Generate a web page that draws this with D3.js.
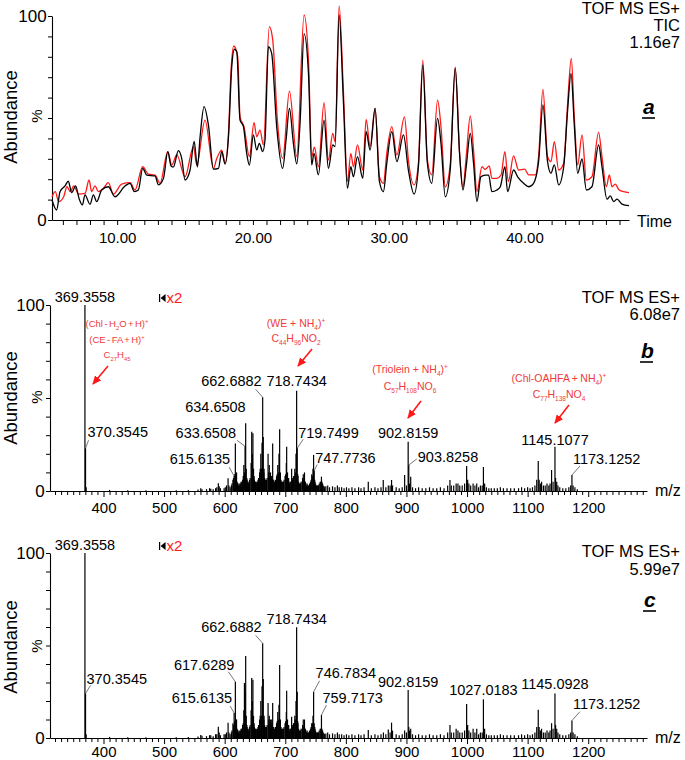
<!DOCTYPE html>
<html><head><meta charset="utf-8">
<script src="https://cdn.jsdelivr.net/npm/d3@7"></script>
<style>
body{margin:0;background:#fff}
svg{display:block}
text{font-family:"Liberation Sans",Arial,sans-serif}
</style>
</head><body>
<svg id="chart" width="685" height="760"></svg>
<script>
// ---------- DATA ----------
// Panel a: TIC chromatograms [time (min), abundance %]
const ticBlack = [[5.2,9.8],[5.54,4.9],[5.79,13.9],[6.16,16.7],[6.40,19],[6.65,13.4],[6.94,16.7],[7.19,10.6],[7.44,7.4],[7.63,12.3],[8.0,7.7],[8.25,12.3],[8.49,9],[8.86,14.7],[9.35,16.3],[9.84,11.4],[10.58,16.7],[10.95,18],[11.27,13.9],[11.56,14.7],[11.88,25.3],[12.18,22],[12.79,21.6],[13.04,17.2],[13.41,20.4],[13.73,33.5],[13.97,26.5],[14.14,26],[14.51,34],[14.76,30],[15.0,19.6],[15.37,24.5],[15.67,38.5],[15.91,26],[16.11,40.9],[16.4,55.6],[16.72,46.6],[17.09,24.9],[17.46,25.3],[17.7,33.5],[17.95,27.4],[18.2,40.9],[18.44,75.2],[18.64,83.7],[18.81,82.5],[19.05,49],[19.3,45.8],[19.54,32.7],[19.74,26.9],[20.03,41.7],[20.28,34.3],[20.47,37.6],[20.72,33.5],[20.89,39.2],[21.14,85],[21.38,81.7],[21.75,45.8],[22.19,25.3],[22.44,39.2],[22.69,54.7],[22.98,37.6],[23.23,27.5],[23.47,47.4],[23.77,91.2],[24.09,71.9],[24.33,27],[24.5,32.7],[24.82,22.1],[25.24,49],[25.56,25.3],[25.88,36.8],[26.05,36],[26.35,100.5],[26.66,58.8],[26.96,15.5],[27.21,26.1],[27.4,21.2],[27.7,31.1],[28.09,20.4],[28.34,43.3],[28.63,34.3],[29.0,54.7],[29.32,18.8],[29.61,13.9],[29.86,27.8],[30.23,43.3],[30.6,28.6],[31.09,41.7],[31.45,24.5],[31.87,12.7],[32.19,26.1],[32.51,76],[32.85,27.8],[33.17,18],[33.6,49.8],[33.85,37.6],[34.17,11.4],[34.53,24.5],[34.9,74.4],[35.22,32.7],[35.47,14.7],[35.71,26.1],[36.01,42.5],[36.25,27.8],[36.5,9],[36.79,21.2],[37.11,22],[37.36,22],[37.6,13.9],[37.97,14.7],[38.22,16.3],[38.56,26.1],[38.76,13.9],[39.2,24.5],[39.5,21.2],[39.94,18],[40.31,16.3],[40.67,18],[41.04,28.6],[41.36,56.4],[41.7,28.6],[41.95,22.9],[42.2,27],[42.52,17.2],[42.89,26.1],[43.18,53.9],[43.43,71.9],[43.67,46.6],[43.92,22.9],[44.24,29.9],[44.56,14.7],[44.97,16.3],[45.46,36.8],[45.71,26.1],[46.08,10.2],[46.32,11.8],[46.57,9],[46.82,10.2],[47.18,7.8],[47.7,7]];
const ticRed = [[5.2,11.4],[5.44,13.9],[5.69,9],[6.06,11.4],[6.3,16.3],[6.55,13.9],[6.8,16.7],[7.16,12.7],[7.63,13],[7.93,19.6],[8.12,13.9],[8.37,16.7],[8.61,13.9],[8.98,15.5],[9.35,18.3],[9.72,12.7],[10.33,17.6],[10.95,18.3],[11.31,14.7],[11.88,26.1],[12.3,22.5],[12.79,22],[13.16,18],[13.73,33.5],[14.02,27],[14.39,31.9],[15.0,21.2],[15.62,36],[15.86,27],[16.47,49],[17.09,25.3],[17.33,30],[17.7,34.3],[17.95,27.8],[18.2,42.5],[18.39,73.5],[18.59,85.3],[18.88,80],[19.05,50.6],[19.34,45.8],[19.74,31.1],[20.08,47.7],[20.28,40.8],[20.52,44.1],[20.77,36.8],[21.21,94.8],[21.46,88.2],[21.8,49],[22.19,30.2],[22.69,63.2],[23.23,31.1],[23.77,100.5],[24.09,78.4],[24.33,31.1],[24.53,35.7],[24.82,26.1],[25.24,57.5],[25.56,29.4],[25.88,42.5],[26.05,38.4],[26.35,105],[26.66,63.7],[26.96,18.8],[27.21,32.7],[27.4,26.1],[27.7,36.8],[28.09,24.5],[28.34,49.3],[28.63,36],[29.0,54.7],[29.32,21.2],[29.61,18],[29.86,32.7],[30.23,45.8],[30.6,31.9],[31.16,50.6],[31.45,29.4],[31.87,17.2],[32.19,27.8],[32.51,78.4],[32.85,29.4],[33.17,22.1],[33.6,58.8],[33.85,45.8],[34.17,16.3],[34.53,27],[34.9,74.9],[35.22,32.7],[35.47,16.3],[35.71,31.1],[36.01,51],[36.25,34.3],[36.5,13.9],[36.87,26.1],[37.11,24.8],[37.41,26.5],[37.6,20.4],[37.97,20.4],[38.27,22],[38.56,33.5],[38.81,18.8],[39.2,31.4],[39.57,24.5],[40.01,24.9],[40.31,22.1],[40.8,22.1],[41.04,31.1],[41.36,64],[41.7,31.1],[41.95,28.6],[42.2,38.4],[42.52,24.5],[42.89,27.8],[43.18,57.2],[43.45,79.2],[43.67,50.6],[43.92,27],[44.24,41.7],[44.56,19.6],[44.97,21.2],[45.46,43],[45.71,31.1],[46.03,16.3],[46.25,22.1],[46.45,16.3],[46.69,17.6],[46.94,15],[47.31,13.9],[47.7,13.4]];
const timeTickLabels = ["10.00","20.00","30.00","40.00"];

// Panel b: mass spectrum [m/z, relative abundance %]
const specB = [[369.36,100],[370.35,23],[371.35,2],[410,0.6],[440,0.4],[470,0.4],[520,0.4],[540,0.5],[556,0.8],[560.5,1.5],[562.5,1],[570,1],[575,1.5],[577,1.2],[581,1],[585,1.5],[587,2],[589.5,4.1],[591,2.5],[593,1.5],[599,1.5],[601,2],[603,3],[605.6,6.8],[607,3],[609,2],[611,3],[612,4],[613.6,6],[614.6,7],[615.6,8],[616.6,9],[617.6,25.6],[618.6,9],[619.6,10],[620.6,5],[621,4],[622,4],[623,3],[624,4],[625,3],[626,4],[627,5],[628,5],[629.6,6],[630.6,8],[631.6,14],[632.6,10],[633.65,24],[634.65,36.4],[635.6,12],[636.6,7],[637,6],[638,5],[639,4],[640,5],[641,6],[642,7],[643.6,15],[644.6,31.9],[645.6,20],[646.6,31],[647.6,12],[648.6,8],[649,6],[650,5],[651,5],[652,5],[653,4],[654,5],[655,6],[656,7],[657.6,10],[658.6,12],[659.6,20],[660.6,12],[661.6,26],[662.69,50.4],[663.7,29],[664.6,10],[665,12],[666,7],[667,6],[668,6],[669,6],[670,7],[671.6,20],[672.6,10],[673.6,14],[674.6,8],[675.6,10],[676.6,7],[677.6,8],[678,8],[679.2,25.6],[680,6],[681,6],[682,5],[683,5],[684,6],[685.6,8],[686.6,9],[687.6,14],[688.6,10],[689.6,20],[690.7,33.2],[692,10],[693,6],[694,5],[695,5],[696,5],[697,5],[698,6],[699.6,8],[700.6,9],[701.7,15],[702.3,23.8],[703.7,10],[704.6,7],[705.6,7],[706,5],[707,4],[708,5],[709,5],[710.5,12],[711.5,7],[712,6],[713.6,8],[714.6,8],[715.7,12],[716.6,10],[717.7,20],[718.74,53.9],[719.75,23],[720.6,9],[721,8],[722,5],[723,4],[724,4],[725,4],[726,5],[727.6,5],[728.6,7],[729.7,9],[730.6,6],[731.7,10],[732.6,5],[733,5],[734,4],[735,3],[736,4],[737,3],[738,3],[739,3],[740,4],[741.6,5],[742.6,6],[743.7,9],[744.6,8],[745.7,12],[746.7,19.4],[747.77,11],[748.6,6],[749,5],[750,4],[751,3],[752,3],[753,3],[754,3],[755,3],[756,4],[757.6,5],[758.6,5],[759.7,7.7],[760.6,5],[761.6,4],[762.6,3],[764,2.5],[765,2],[767,2.5],[770,3],[773,2],[778,2.5],[782,2],[786,3],[789,2],[793,2],[797,1.5],[801,2],[805,1.5],[810,2],[815,1.5],[821,2],[825,1.5],[830,2],[837,5],[842,1.5],[848,2],[853,1.5],[858,2],[861.7,5.9],[866,2],[870,3],[873,3],[875.4,5.9],[877,3],[883,2],[888,1.5],[893,2],[897,8.6],[900,3],[902.82,26.5],[903.83,14],[905,4],[907,7.7],[910,2],[915,1.5],[920,2],[926,1.5],[932,1.5],[938,2],[944,1.5],[950,1.5],[956,2],[962,1.5],[968,3],[971.8,5.9],[974,3],[978,3],[982,4],[985,4],[988,3],[992,3],[996,4],[999.3,13.4],[1001,6],[1003,4],[1006,3],[1010,4],[1013,3],[1016,4],[1019,2],[1022,3],[1025,3],[1027.02,12.9],[1029,4],[1032,2],[1036,1.5],[1040,1.5],[1045,1.5],[1050,1.5],[1055,2],[1060,1.5],[1066,1.5],[1072,1.5],[1078,1.5],[1085,1.5],[1090,2],[1095,1.5],[1100,2],[1104,1.5],[1108,2],[1112,3],[1115,6],[1117.5,16.1],[1119,6],[1121,4],[1123,5],[1126,3],[1129,3],[1132,4],[1135,3],[1137,4],[1139.5,11.3],[1142,5],[1145.11,23.8],[1146.1,7],[1148,5],[1150,3],[1153,2],[1158,1.5],[1163,1.5],[1168,2],[1171,3],[1173.13,8.6],[1175,3],[1178,2],[1182,1]];

// Panel c: mass spectrum [m/z, relative abundance %]
const specC = [[369.36,100],[370.35,24.1],[371.35,2],[410,0.6],[440,0.4],[470,0.4],[520,0.4],[540,0.5],[556,0.8],[560.5,1.6],[562.5,1.2],[570,1],[575,1.5],[577,1.5],[581,1],[585,2],[587,2],[589.5,6.1],[591,3],[593,1.5],[599,2],[601,2],[603,3],[605.6,8.3],[607,3],[609,2],[611,3],[612,4],[613.6,8],[614.6,7],[615.61,13.5],[616.6,9],[617.63,30.4],[618.6,10],[619.6,10],[620.6,5],[621,4],[622,4],[623,3],[624,4],[625,3],[626,4],[627,5],[628,5],[629.6,7],[630.6,8],[631.6,15],[632.6,29.7],[633.65,25],[634.65,44.3],[635.6,12],[636.6,7],[637,6],[638,5],[639,4],[640,5],[641,6],[642,7],[643.6,15],[644.6,32.4],[645.6,20],[646.6,31.5],[647.6,12],[648.6,8],[649,6],[650,5],[651,5],[652,5],[653,4],[654,5],[655,6],[656,7],[657.6,10],[658.6,12],[659.6,20],[660.6,12],[661.6,28],[662.69,51.2],[663.7,31.9],[664.6,10],[665,12],[666,7],[667,6],[668,6],[669,6],[670,7],[671.6,18.9],[672.6,10],[673.6,12],[674.6,8],[675.6,10],[676.6,7],[677.6,10],[678,8],[679.2,18.9],[680,6],[681,6],[682,5],[683,5],[684,6],[685.6,8],[686.6,9],[687.6,14],[688.6,10],[689.6,18],[690.7,39.5],[692,10],[693,6],[694,5],[695,5],[696,5],[697,5],[698,6],[699.6,8],[700.6,9],[701.7,14],[702.3,25.6],[703.7,10],[704.6,7],[705.6,7],[706,5],[707,4],[708,5],[709,5],[710.5,11.5],[711.5,7],[712,6],[713.6,8],[714.6,8],[715.7,12],[716.6,10],[717.7,20],[718.74,59.8],[719.75,25],[720.6,9],[721,8],[722,5],[723,4],[724,4],[725,4],[726,5],[727.6,5],[728.6,7],[729.7,10],[730.6,6],[731.7,10],[732.6,5],[733,5],[734,4],[735,3],[736,4],[737,3],[738,3],[739,3],[740,4],[741.6,5],[742.6,6],[743.7,8],[744.6,8],[745.7,12],[746.78,25],[747.7,8],[748.6,6],[749,5],[750,4],[751,3],[752,3],[753,3],[754,3],[755,3],[756,4],[757.6,5],[758.6,5],[759.72,12.4],[760.6,5],[761.6,4],[762.6,3],[764,2.5],[765,2],[767,2.5],[770,3],[773,2],[778,2.5],[782,2],[786,3],[789,2],[793,2],[797,1.5],[801,2],[805,1.5],[810,2],[815,1.5],[821,2],[825,1.5],[830,2],[837,4.3],[842,1.5],[848,2],[853,1.5],[858,2],[862,3],[866,2],[870,4.6],[873,3],[875.4,8.3],[877,4],[883,2],[888,1.5],[893,2],[897,4],[900,3],[902.82,25.9],[903.83,6],[905,4],[907,5],[910,2],[915,1.5],[920,2],[926,1.5],[932,1.5],[938,2],[944,1.5],[950,1.5],[956,2],[962,1.5],[968,3],[971.8,7],[974,3],[978,3],[982,5],[985,4],[988,3],[992,3],[996,4],[999.3,18.4],[1001,7],[1003,4],[1006,3],[1010,5],[1013,3],[1016,5],[1019,2],[1022,3],[1025,3],[1027.02,20.9],[1029,5],[1032,2],[1036,1.5],[1040,1.5],[1045,1.5],[1050,1.5],[1055,2],[1060,1.5],[1066,1.5],[1072,1.5],[1078,1.5],[1085,1.5],[1090,2],[1095,1.5],[1100,2],[1104,1.5],[1108,2],[1112,3],[1115,6],[1117.5,15.3],[1119,6],[1121,4],[1123,5],[1126,3],[1129,3],[1132,4],[1135,3],[1137,4],[1139.5,8],[1142,5],[1145.09,24.1],[1146.1,7],[1148,5],[1150,3],[1153,2],[1158,1.5],[1163,1.5],[1168,2],[1171,3],[1173.13,9.4],[1175,3],[1178,2],[1182,1]];
const mzTickLabels = [400,500,600,700,800,900,1000,1100,1200];

// Peak labels: [text, m/z, abundance]
const peakLabelsB = [["369.3558",369.36,100],["370.3545",370.35,23],["615.6135",615.6,8],["633.6508",633.65,24],["634.6508",634.65,36.4],["662.6882",662.69,50.4],["718.7434",718.74,53.9],["719.7499",719.75,23],["747.7736",747.77,11],["902.8159",902.82,26.5],["903.8258",903.83,14],["1145.1077",1145.11,23.8],["1173.1252",1173.13,8.6]];
const peakLabelsC = [["369.3558",369.36,100],["370.3545",370.35,24.1],["617.6289",617.63,30.4],["615.6135",615.61,13.5],["662.6882",662.69,51.2],["718.7434",718.74,59.8],["746.7834",746.78,25],["759.7173",759.72,12.4],["902.8159",902.82,25.9],["1027.0183",1027.02,20.9],["1145.0928",1145.09,24.1],["1173.1252",1173.13,9.4]];

// Red annotations (panel b)
const annotTexts = [
  ["(Chl - H_2O + H)^+","(CE - FA + H)^+","C_27H_45"],
  ["(WE + NH_4)^+","C_44H_96NO_2"],
  ["(Triolein + NH_4)^+","C_57H_108NO_6"],
  ["(Chl-OAHFA + NH_4)^+","C_77H_138NO_4"]
];

// ---------- LAYOUT ----------
const svg = d3.select("#chart");
const RED = "#ff1a1a", ANN = "#f03a3a";

function rich(sel, str, size){
  const toks = str.match(/_\d+|\^[+\-]|[^_^]+/g);
  let shift = 0;
  toks.forEach(t=>{
    let target = 0, txt = t, fs = size;
    if(t[0]==="_"){target = size*0.32; txt=t.slice(1); fs=size*0.62;}
    else if(t[0]==="^"){target = -size*0.42; txt=t.slice(1); fs=size*0.62;}
    sel.append("tspan").attr("dy", target-shift).attr("font-size", fs).text(txt);
    shift = target;
  });
}

function styleAxis(g, fs){
  g.select(".domain").attr("stroke","#000").attr("stroke-width",1.1);
  g.selectAll(".tick line").attr("stroke","#000").attr("stroke-width",1);
  g.selectAll(".tick text").attr("font-size",fs).attr("font-family",'"Liberation Sans",Arial,sans-serif').attr("fill","#000");
}

function yLabels(cy){
  svg.append("text").attr("transform",`translate(17,${cy}) rotate(-90)`).attr("text-anchor","middle")
    .attr("font-size",18.5).text("Abundance");
  svg.append("text").attr("transform",`translate(42,${cy-1}) rotate(-90)`).attr("text-anchor","middle")
    .attr("font-size",15).text("%");
}

function panelLetter(ch, x, y){
  svg.append("text").attr("x",x).attr("y",y).attr("font-size",21).attr("font-style","italic")
    .attr("font-weight","bold").text(ch);
  svg.append("line").attr("x1",x-1).attr("x2",x+12).attr("y1",y+4).attr("y2",y+4).attr("stroke","#000").attr("stroke-width",1.6);
}

function header(lines, y0, dy){
  lines.forEach((s,i)=> svg.append("text").attr("x",680).attr("y",y0+i*dy).attr("text-anchor","end")
    .attr("font-size",16.5).text(s));
}

// ---------- Panel a ----------
const xT = d3.scaleLinear().domain([5.2,47.7]).range([52,629]);
const yA = d3.scaleLinear().domain([0,100]).range([220,16]);

const gxA = svg.append("g").attr("transform","translate(0,220)")
  .call(d3.axisBottom(xT).tickValues(d3.range(6,48,1)).tickSize(5).tickSizeOuter(0)
    .tickFormat(d => d%10===0 ? timeTickLabels[d/10-1] : ""));
styleAxis(gxA, 15);
gxA.selectAll(".tick text").attr("dy","1.0em");
const gyA = svg.append("g").attr("transform","translate(52,0)")
  .call(d3.axisLeft(yA).tickValues(d3.range(0,101,10)).tickSize(4).tickSizeOuter(0)
    .tickFormat(d => (d===0||d===100) ? d : ""));
styleAxis(gyA, 17);
gyA.selectAll(".tick text").attr("dx","0.1em");
svg.append("text").attr("x",637).attr("y",227).attr("font-size",16).text("Time");

const lineA = d3.line().x(d=>xT(d[0])).y(d=>yA(d[1])).curve(d3.curveMonotoneX);
svg.append("path").datum(ticRed).attr("d",lineA).attr("fill","none").attr("stroke",RED).attr("stroke-width",1.3);
svg.append("path").datum(ticBlack).attr("d",lineA).attr("fill","none").attr("stroke","#000").attr("stroke-width",1.3);

yLabels(117);
header(["TOF MS ES+","TIC","1.16e7"], 14, 17);
panelLetter("a", 643, 114);

// ---------- Spectra ----------
const xM = d3.scaleLinear().domain([311.7,1297]).range([50,647]);

function spectrum(data, y0, y100, labels, layout, tickDy){
  const yS = d3.scaleLinear().domain([0,100]).range([y0,y100]);
  const gx = svg.append("g").attr("transform",`translate(0,${y0})`)
    .call(d3.axisBottom(xM).tickValues(d3.range(320,1297,10)).tickSize(4).tickSizeOuter(0)
      .tickFormat(d => mzTickLabels.includes(d) ? d : ""));
  styleAxis(gx, 15);
  gx.selectAll(".tick text").attr("dy",tickDy);
  gx.selectAll(".tick line").filter(d=>d%100===0).attr("y2",6);
  const gy = svg.append("g").attr("transform","translate(50,0)")
    .call(d3.axisLeft(yS).tickValues(d3.range(0,101,10)).tickSize(4).tickSizeOuter(0)
      .tickFormat(d => (d===0||d===100) ? d : ""));
  styleAxis(gy, 17);
  gy.selectAll(".tick text").attr("dx","0.1em");
  svg.append("text").attr("x",655).attr("y",y0+5).attr("font-size",16).text("m/z");

  svg.append("g").selectAll("line").data(data).join("line")
    .attr("x1",d=>xM(d[0])).attr("x2",d=>xM(d[0]))
    .attr("y1",yS(0)).attr("y2",d=>yS(d[1]))
    .attr("stroke","#000").attr("stroke-width",1.2);

  labels.forEach((l,i)=>{
    const [txt, mz, v] = l;
    const L = layout[i];
    const px = xM(mz), py = yS(v);
    svg.append("text").attr("x",px+L[1]).attr("y",py+L[2]).attr("text-anchor",L[0])
      .attr("font-size",14.5).text(txt);
    if(L[3]){
      svg.append("line").attr("x1",px).attr("y1",py).attr("x2",px+L[3][0]).attr("y2",py+L[3][1])
        .attr("stroke","#555").attr("stroke-width",0.8);
    }
  });

  // x2 marker
  const mx = xM(500)-1.5, my = y100-7;
  svg.append("line").attr("x1",mx-3).attr("x2",mx-3).attr("y1",my-4).attr("y2",my+4).attr("stroke","#000").attr("stroke-width",1.2);
  svg.append("path").attr("d",`M${mx-2},${my} L${mx+3},${my-4} L${mx+3},${my+4} Z`).attr("fill","#000");
  svg.append("text").attr("x",mx+4).attr("y",my+5).attr("font-size",15).attr("fill",RED).text("x2");
  return yS;
}

const layoutB = [
  ["middle",0,-3,null],["start",2,-11,[3,-8]],["end",-4,-12,[-5,-9]],["end",-9,-8,[-8,-6]],
  ["end",0,-11,null],["end",-1,-11,[-7,-8]],["middle",0,-5,null],["start",1,-10,[6,-9]],
  ["start",1,-8,[3,-6]],["middle",0,-4,null],["start",9,-3,[8,-6]],["middle",0,-2,null],["start",1,-11,[8,-9]]
];
const layoutC = [
  ["middle",0,-3,null],["start",1,-9,[5,-8]],["end",-1,-12,[-7,-10]],["end",-2,-10,[-4,-7]],
  ["end",-1,-11.5,[-7,-8]],["middle",0,-3,null],["start",2,-14,[6,-11]],["start",1,-12,[5,-10]],
  ["middle",0,-3.5,null],["middle",0,-4,null],["middle",0,-4,null],["start",1,-12,[8,-9]]
];

spectrum(specB, 491, 305, peakLabelsB, layoutB, "1.0em");
yLabels(398);
header(["TOF MS ES+","6.08e7"], 303, 16.8);
panelLetter("b", 641, 358);

spectrum(specC, 738, 553, peakLabelsC, layoutC, "0.8em");
yLabels(647);
header(["TOF MS ES+","5.99e7"], 557, 17.5);
panelLetter("c", 644, 607);

// Red annotations
svg.append("defs").append("marker").attr("id","ah").attr("markerUnits","userSpaceOnUse")
  .attr("markerWidth",9).attr("markerHeight",8).attr("refX",8).attr("refY",4).attr("orient","auto")
  .append("path").attr("d","M0,0 L9,4 L0,8 Z").attr("fill",RED);
const annLayout = [
  {cx:117, ys:[327,343,358], fs:9.5, ws:-1.2, arrow:[108,366,93,384]},
  {cx:296, ys:[327,342], fs:10.5, ws:0, arrow:[312,349,298,366]},
  {cx:410, ys:[373,390], fs:10.5, ws:0, arrow:[421,401,408,418]},
  {cx:559, ys:[382,398], fs:10.5, ws:-0.5, arrow:[569,405,555,423]}
];
annotTexts.forEach((lines,i)=>{
  const L = annLayout[i];
  lines.forEach((s,j)=>{
    const t = svg.append("text").attr("x",L.cx).attr("y",L.ys[j]).attr("text-anchor","middle")
      .attr("fill",ANN).attr("font-size",L.fs).attr("word-spacing",L.ws);
    rich(t, s, L.fs);
  });
  const a = L.arrow;
  svg.append("line").attr("x1",a[0]).attr("y1",a[1]).attr("x2",a[2]).attr("y2",a[3])
    .attr("stroke",RED).attr("stroke-width",1.6).attr("marker-end","url(#ah)");
});
</script>
</body></html>
